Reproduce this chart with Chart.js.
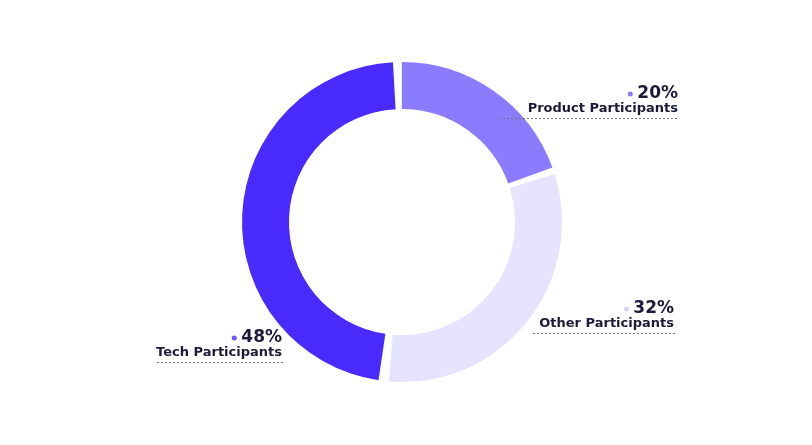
<!DOCTYPE html>
<html>
<head>
<meta charset="utf-8">
<script src="https://cdn.jsdelivr.net/npm/chart.js@4.4.1/dist/chart.umd.min.js"></script>
<style>
  html, body { margin: 0; padding: 0; background: #fff; }
  #wrap { width: 812px; height: 445px; }
</style>
</head>
<body>
<div id="wrap"><canvas id="donut" width="812" height="445"></canvas></div>
<script>
// data
const categories = ["Product Participants", "Other Participants", "Tech Participants"];
const shares = [20, 32, 48];
const colors = ["#8b7bff", "#e6e3ff", "#4a2bff"];
const dotColors = ["#8b7bff", "#d6d1ff", "#6a55ff"];

// label placement (right edge x / baseline of the percent line, relative to ring center)
const labelSpots = [
  { dx: 276, dy: -124 },
  { dx: 272, dy: 91 },
  { dx: -120, dy: 120 }
];
const lineStart = [-175, -141, -125];

const textColor = "#1b1a3a";

// ➤ draws the percent + name labels with dotted underline
const calloutPlugin = {
  id: "callouts",
  afterDraw(chart) {
    const ctx = chart.ctx;
    const arc = chart.getDatasetMeta(0).data[0];
    const cx = arc.x, cy = arc.y;
    ctx.save();
    categories.forEach((name, i) => {
      const spot = labelSpots[i];
      const right = cx + spot.dx;
      const base = cy + spot.dy;
      const pct = shares[i] + "%";

      ctx.textAlign = "right";
      ctx.textBaseline = "alphabetic";
      ctx.fillStyle = textColor;
      ctx.font = "bold 17px 'DejaVu Sans', sans-serif";
      ctx.fillText(pct, right, base);
      const pw = ctx.measureText(pct).width;

      // dot
      ctx.beginPath();
      ctx.arc(right - pw - 7, base - 4, 2.5, 0, Math.PI * 2);
      ctx.fillStyle = dotColors[i];
      ctx.fill();

      ctx.fillStyle = textColor;
      ctx.font = "bold 13px 'DejaVu Sans', sans-serif";
      ctx.fillText(name, right, base + 14);

      // dotted underline
      ctx.beginPath();
      ctx.setLineDash([2, 2]);
      ctx.strokeStyle = "#6f6f80";
      ctx.lineWidth = 1;
      ctx.moveTo(right + lineStart[i], base + 20.5);
      ctx.lineTo(right + 1, base + 20.5);
      ctx.stroke();
      ctx.setLineDash([]);
    });
    ctx.restore();
  }
};

new Chart(document.getElementById("donut").getContext("2d"), {
  type: "doughnut",
  data: {
    labels: categories,
    datasets: [{
      data: shares,
      backgroundColor: colors,
      borderWidth: 0,
      spacing: 7
    }]
  },
  options: {
    responsive: false,
    animation: false,
    cutout: "70%",
    rotation: -1,
    layout: { padding: { top: 62, bottom: 63, left: 0, right: 8 } },
    plugins: {
      legend: { display: false },
      tooltip: { enabled: false }
    }
  },
  plugins: [calloutPlugin]
});
</script>
</body>
</html>
